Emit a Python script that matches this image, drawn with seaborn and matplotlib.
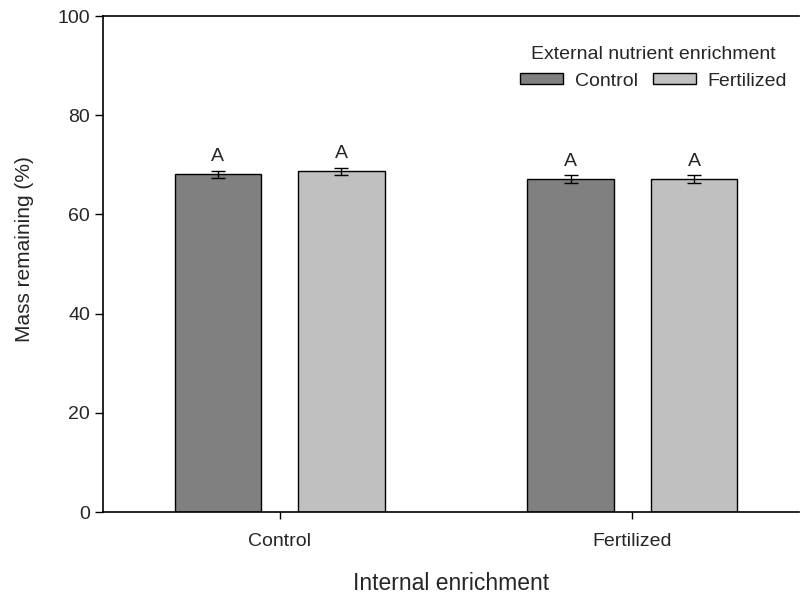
import pandas as pd
import matplotlib.pyplot as plt
import seaborn as sns

# data
internal = ["Control", "Control", "Fertilized", "Fertilized"]
external = ["Control", "Fertilized", "Control", "Fertilized"]
mass = [68.1, 68.7, 67.1, 67.1]
sem = [0.7, 0.75, 0.75, 0.75]
letters = ["A", "A", "A", "A"]

df = pd.DataFrame({"Internal": internal, "External": external,
                   "Mass": mass, "SE": sem, "Letter": letters})

sns.set_style("ticks")
plt.rcParams['font.family'] = ['Liberation Sans', 'DejaVu Sans']

fig = plt.figure(figsize=(8, 5.94), dpi=100)
ax = fig.add_axes([0.129, 0.138, 0.870, 0.835])

sns.barplot(data=df, x="Internal", y="Mass", hue="External",
            palette=["#808080", "#c0c0c0"], width=0.70, gap=0.30,
            edgecolor="black", linewidth=1, errorbar=None, ax=ax)

# error bars + letters on top of each bar
for cont, ext in zip(ax.containers, ["Control", "Fertilized"]):
    sub = df[df["External"] == ext]
    for bar, (_, row) in zip(cont, sub.iterrows()):
        xc = bar.get_x() + bar.get_width() / 2
        ax.errorbar(xc, row["Mass"], yerr=row["SE"], fmt="none",
                    ecolor="black", elinewidth=1, capsize=5, capthick=1)
        ax.annotate(row["Letter"], (xc, row["Mass"] + row["SE"]),
                    xytext=(0, 4), textcoords="offset points",
                    ha="center", va="bottom", fontsize=14)

ax.set_ylim(0, 100)
ax.set_xlim(-0.5, 1.473)
ax.set_yticks([0, 20, 40, 60, 80, 100])
ax.set_xlabel("Internal enrichment", fontsize=16.5)
ax.set_ylabel("Mass remaining (%)", fontsize=15)
ax.xaxis.set_label_coords(0.5, -0.12)
ax.yaxis.set_label_coords(-0.1, 0.53)
ax.tick_params(axis="both", labelsize=14, color="black", width=1)
ax.tick_params(axis="y", length=6)
ax.tick_params(axis="x", length=5, pad=10)

for s in ["left", "bottom", "top"]:
    ax.spines[s].set_color("black")
    ax.spines[s].set_linewidth(1.2)
ax.spines["right"].set_visible(False)

leg = ax.legend(title="External nutrient enrichment", ncol=2, frameon=False,
                loc="upper right", bbox_to_anchor=(1.008, 0.975),
                fontsize=14, title_fontsize=14, handlelength=2.2,
                handleheight=0.5, handletextpad=0.6, columnspacing=0.8)
for p in leg.get_patches():
    p.set_edgecolor("black")

fig.savefig("out.png", dpi=100)
